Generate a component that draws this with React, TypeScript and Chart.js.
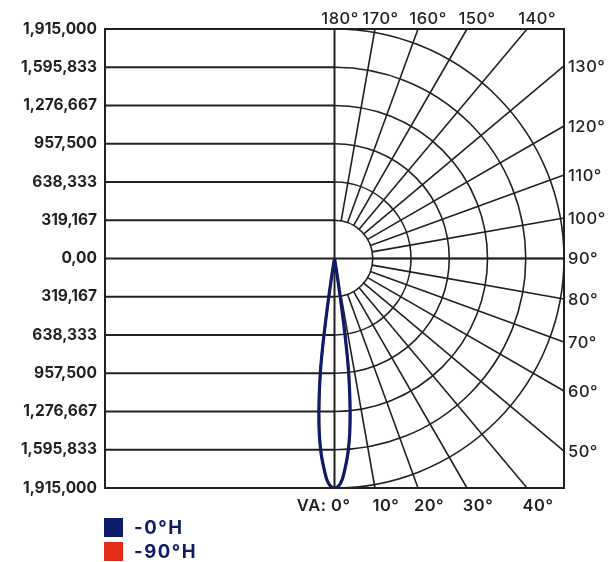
import React, { useEffect, useRef } from 'react';
import { Chart, registerables } from 'chart.js';

Chart.register(...registerables);

// ---------- data ----------
const MAX_CD = 1915000;
const intensityTickValues = [1915000, 1595833, 1276667, 957500, 638333, 319167, 0, -319167, -638333, -957500, -1276667, -1595833, -1915000];
const intensityTickLabels = ['1,915,000', '1,595,833', '1,276,667', '957,500', '638,333', '319,167', '0,00', '319,167', '638,333', '957,500', '1,276,667', '1,595,833', '1,915,000'];
const ringValues = [319167, 638333, 957500, 1276667, 1595833, 1915000];
const radialAngles = [10, 20, 30, 40, 50, 60, 70, 80, 90, 100, 110, 120, 130, 140, 150, 160, 170];
const topAngleLabels = [180, 170, 160, 150, 140];
const rightAngleLabels = [130, 120, 110, 100, 90, 80, 70, 60, 50];
const bottomAngleLabels = [0, 10, 20, 30, 40];

const beamAngles = [-10, -9.5, -9, -8.5, -8, -7.5, -7, -6, -5, -4, -3, -2, -1, 0, 1, 2, 3, 4, 5, 6, 7, 7.5, 8, 8.5, 9, 9.5, 10];
const intensity0H = [0, 40000, 150000, 330000, 560000, 800000, 980000, 1240000, 1460000, 1620000, 1740000, 1845000, 1900000, 1915000, 1900000, 1845000, 1740000, 1620000, 1460000, 1240000, 980000, 800000, 560000, 330000, 150000, 40000, 0];
const intensity90H = [0, 40000, 150000, 330000, 560000, 800000, 980000, 1240000, 1460000, 1620000, 1740000, 1845000, 1900000, 1915000, 1900000, 1845000, 1740000, 1620000, 1460000, 1240000, 980000, 800000, 560000, 330000, 150000, 40000, 0];

const seriesNames = ['-0°H', '-90°H'];
const NAVY = '#0d1b6b';
const RED = '#e52d18';
const INK = '#231f20';

function toXY(angles: number[], values: number[]) {
  return angles.map((a, i) => {
    const r = (a * Math.PI) / 180;
    return { x: values[i] * Math.sin(r), y: -values[i] * Math.cos(r) };
  });
}

const polarGrid = {
  id: 'polarGrid',
  beforeDatasetsDraw(chart: any) {
    const { ctx, chartArea } = chart;
    const xs = chart.scales.x;
    const ys = chart.scales.y;
    const cx = xs.getPixelForValue(0);
    const cy = ys.getPixelForValue(0);
    const pr = (v: number) => Math.abs(xs.getPixelForValue(v) - cx);
    const { left, right, top, bottom } = chartArea;
    ctx.save();
    ctx.strokeStyle = INK;

    // horizontal lines (left half), center line full width
    ctx.lineWidth = 2;
    intensityTickValues.forEach((v) => {
      const y = ys.getPixelForValue(v);
      ctx.beginPath();
      ctx.moveTo(left, y);
      ctx.lineTo(v === 0 ? right : cx, y);
      ctx.stroke();
    });
    // vertical center line
    ctx.beginPath();
    ctx.moveTo(cx, top);
    ctx.lineTo(cx, bottom);
    ctx.stroke();

    // rings
    ctx.lineWidth = 1.6;
    ringValues.forEach((v) => {
      ctx.beginPath();
      ctx.arc(cx, cy, pr(v), -Math.PI / 2, Math.PI / 2, false);
      ctx.stroke();
    });
    // radial lines
    const r0 = pr(ringValues[0]);
    const hit = (a: number) => {
      const rad = (a * Math.PI) / 180;
      const dx = Math.sin(rad);
      const dy = Math.cos(rad);
      const tx = Math.abs(dx) > 1e-9 ? (right - cx) / Math.abs(dx) : Infinity;
      const ty = Math.abs(dy) > 1e-9 ? (dy > 0 ? bottom - cy : cy - top) / Math.abs(dy) : Infinity;
      const t = Math.min(tx, ty);
      return { dx, dy, x: cx + dx * t, y: cy + dy * t };
    };
    radialAngles.forEach((a) => {
      const h = hit(a);
      ctx.beginPath();
      ctx.moveTo(cx + h.dx * r0, cy + h.dy * r0);
      ctx.lineTo(h.x, h.y);
      ctx.stroke();
    });

    // frame
    ctx.lineWidth = 2;
    ctx.strokeRect(left, top, right - left, bottom - top);

    // angle labels
    ctx.fillStyle = INK;
    (ctx as any).letterSpacing = '0.5px';
    ctx.font = '500 16.5px Inter';
    ctx.textBaseline = 'middle';
    ctx.textAlign = 'center';
    topAngleLabels.forEach((a) => {
      const h = hit(a);
      const off = h.x - cx < 50 ? 5.5 : 10;
      ctx.fillText(a + '°', h.x + off, top - 10);
    });
    ctx.textAlign = 'left';
    rightAngleLabels.forEach((a) => {
      const h = hit(a);
      ctx.fillText(a + '°', right + 4, h.y + 1);
    });
    ctx.font = '600 16.5px Inter';
    bottomAngleLabels.forEach((a) => {
      const h = hit(a);
      if (a === 0) {
        ctx.textAlign = 'right';
        ctx.fillText('VA: ' + a + '°', cx + 16, bottom + 18);
      } else {
        ctx.textAlign = 'center';
        ctx.fillText(a + '°', h.x + 11, bottom + 18);
      }
    });
    ctx.restore();
  },
};

export default function App() {
  const ref = useRef<HTMLCanvasElement | null>(null);

  useEffect(() => {
    if (!ref.current) return;
    const chart = new Chart(ref.current, {
      type: 'scatter',
      data: {
        datasets: [
          {
            label: seriesNames[0],
            data: toXY(beamAngles, intensity0H),
            showLine: true,
            borderColor: NAVY,
            backgroundColor: NAVY,
            borderWidth: 3.2,
            pointRadius: 0,
            tension: 0.3,
            order: 0,
          },
          {
            label: seriesNames[1],
            data: toXY(beamAngles, intensity90H),
            showLine: true,
            borderColor: RED,
            backgroundColor: RED,
            borderWidth: 2.4,
            pointRadius: 0,
            tension: 0.3,
            order: 1,
          },
        ],
      },
      options: {
        animation: false,
        responsive: false,
        maintainAspectRatio: false,
        layout: { padding: { left: 0, top: 29, right: 44, bottom: 74 } },
        plugins: { legend: { display: false }, tooltip: { enabled: false } },
        scales: {
          x: { type: 'linear', min: -MAX_CD, max: MAX_CD, display: false },
          y: {
            type: 'linear',
            min: -MAX_CD,
            max: MAX_CD,
            grid: { display: false, drawTicks: false },
            border: { display: false },
            afterFit: (scale: any) => {
              scale.width = 105;
            },
            afterBuildTicks: (scale: any) => {
              scale.ticks = intensityTickValues.slice().reverse().map((v) => ({ value: v }));
            },
            ticks: {
              autoSkip: false,
              padding: 8,
              color: INK,
              font: { family: 'Inter', weight: '700', size: 15.5 },
              callback: (value: any) => {
                const i = intensityTickValues.indexOf(Number(value));
                return i >= 0 ? intensityTickLabels[i] : '';
              },
            },
          },
        },
      },
      plugins: [polarGrid],
    } as any);
    return () => chart.destroy();
  }, []);

  const legendText: React.CSSProperties = {
    position: 'absolute',
    left: 134,
    fontFamily: 'Inter',
    fontWeight: 700,
    fontSize: 18.5,
    letterSpacing: 1.5,
    color: NAVY,
    lineHeight: '19px',
  };

  return (
    <div style={{ position: 'fixed', left: 0, top: 0, width: 608, height: 562, background: '#fff', overflow: 'hidden' }}>
      <canvas ref={ref} width={608} height={562} style={{ display: 'block' }} />
      <div style={{ position: 'absolute', left: 104, top: 518, width: 19, height: 19, background: NAVY }} />
      <div style={{ position: 'absolute', left: 104, top: 542, width: 19, height: 19, background: RED }} />
      <div style={{ ...legendText, top: 518 }}>{seriesNames[0]}</div>
      <div style={{ ...legendText, top: 542 }}>{seriesNames[1]}</div>
    </div>
  );
}
